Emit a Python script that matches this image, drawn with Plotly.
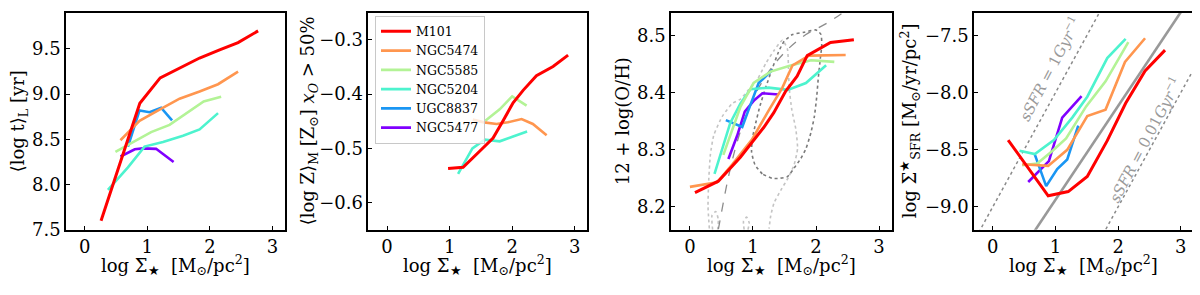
import plotly.graph_objects as go

# ---------------- data ----------------
galaxies = ["M101", "NGC5474", "NGC5585", "NGC5204", "UGC8837", "NGC5477"]
colors = ["rgb(255,0,0)", "rgb(255,150,79)", "rgb(179,243,150)",
          "rgb(77,243,206)", "rgb(26,150,243)", "rgb(128,0,255)"]

x_ticks = [0, 1, 2, 3]

# Panel 1: <log t>_L
m101_age_x = [0.26, 0.57, 0.88, 1.205, 1.515, 1.835, 2.155, 2.45, 2.77]
m101_age_y = [7.60, 8.255, 8.90, 9.18, 9.29, 9.40, 9.49, 9.57, 9.70]
n5474_age_x = [0.57, 0.875, 1.195, 1.515, 1.835, 2.13, 2.45]
n5474_age_y = [8.49, 8.705, 8.83, 8.95, 9.03, 9.11, 9.25]
n5585_age_x = [0.49, 0.69, 1.06, 1.355, 1.9, 2.18]
n5585_age_y = [8.36, 8.44, 8.58, 8.66, 8.92, 8.97]
n5204_age_x = [0.37, 0.69, 0.955, 1.25, 1.57, 1.835, 2.13]
n5204_age_y = [7.94, 8.19, 8.42, 8.47, 8.54, 8.61, 8.79]
u8837_age_x = [0.69, 0.875, 1.035, 1.22, 1.395]
u8837_age_y = [8.42, 8.82, 8.80, 8.85, 8.71]
n5477_age_x = [0.57, 0.80, 0.93, 1.14, 1.42]
n5477_age_y = [8.31, 8.39, 8.40, 8.395, 8.25]
age_ticks = [7.5, 8.0, 8.5, 9.0, 9.5]

# Panel 2: <log Z>_M
m101_z_x = [0.975, 1.215, 1.508, 1.694, 1.854, 2.014, 2.174, 2.387, 2.653, 2.893]
m101_z_y = [-0.537, -0.535, -0.502, -0.481, -0.449, -0.416, -0.393, -0.366, -0.349, -0.328]
n5474_z_x = [1.37, 1.55, 1.75, 1.93, 2.15, 2.33, 2.55]
n5474_z_y = [-0.447, -0.452, -0.455, -0.452, -0.446, -0.455, -0.476]
n5585_z_x = [1.57, 1.80, 2.00, 2.23]
n5585_z_y = [-0.449, -0.428, -0.404, -0.421]
n5204_z_x = [1.135, 1.364, 1.561, 1.80, 2.014, 2.238]
n5204_z_y = [-0.547, -0.500, -0.484, -0.487, -0.478, -0.469]
z_ticks = [-0.6, -0.5, -0.4, -0.3]

# Panel 3: 12 + log(O/H)
m101_oh_x = [0.08, 0.45, 0.80, 1.01, 1.17, 1.33, 1.52, 1.70, 1.86, 2.23, 2.60]
m101_oh_y = [8.225, 8.245, 8.287, 8.316, 8.339, 8.365, 8.403, 8.429, 8.465, 8.488, 8.493]
n5474_oh_x = [0.0, 0.43, 0.67, 0.99, 1.255, 1.467, 1.627, 1.89, 2.47]
n5474_oh_y = [8.235, 8.243, 8.274, 8.319, 8.37, 8.409, 8.448, 8.465, 8.466]
n5585_oh_x = [0.53, 0.80, 1.01, 1.28, 1.57, 1.92, 2.29]
n5585_oh_y = [8.291, 8.375, 8.417, 8.437, 8.447, 8.457, 8.454]
n5204_oh_x = [0.39, 0.64, 0.80, 0.96, 1.25, 1.55, 1.84, 2.16]
n5204_oh_y = [8.258, 8.347, 8.381, 8.406, 8.409, 8.405, 8.417, 8.448]
u8837_oh_x = [0.57, 0.83, 0.93, 1.02, 1.09, 1.31]
u8837_oh_y = [8.352, 8.340, 8.370, 8.398, 8.417, 8.440]
n5477_oh_x = [0.61, 0.75, 0.87, 1.02, 1.15, 1.41]
n5477_oh_y = [8.284, 8.325, 8.367, 8.387, 8.399, 8.397]
oh_ticks = [8.2, 8.3, 8.4, 8.5]

# reference relation (dashed) and density contours (dotted)
ref_oh_x = [0.40, 0.45, 0.62, 0.78, 0.99, 1.25, 1.55, 1.84, 2.16, 2.45]
ref_oh_y = [8.13, 8.16, 8.257, 8.325, 8.387, 8.437, 8.476, 8.502, 8.521, 8.542]
dark_cont_x = [1.308, 1.148, 1.031, 0.978, 0.989, 1.031, 1.106, 1.201, 1.308, 1.403,
               1.494, 1.627, 1.813, 2.0, 2.079, 2.09, 2.068, 2.036, 2.01, 1.973,
               1.919, 1.84, 1.76, 1.653, 1.547, 1.414, 1.308]
dark_cont_y = [8.250, 8.258, 8.274, 8.296, 8.319, 8.341, 8.375, 8.409, 8.443, 8.471,
               8.490, 8.502, 8.506, 8.510, 8.502, 8.482, 8.460, 8.426, 8.392, 8.358,
               8.330, 8.302, 8.285, 8.268, 8.253, 8.250, 8.250]
light_cont_x = [0.308, 0.287, 0.298, 0.324, 0.377, 0.510, 0.670, 0.803, 0.936, 1.069,
                1.201, 1.334, 1.467, 1.547, 1.563, 1.574, 1.616, 1.680, 1.707, 1.653,
                1.563, 1.441, 1.334, 1.281, 1.255]
light_cont_y = [8.162, 8.201, 8.246, 8.291, 8.325, 8.358, 8.381, 8.389, 8.406, 8.423,
                8.451, 8.474, 8.492, 8.476, 8.443, 8.409, 8.370, 8.336, 8.302, 8.274,
                8.252, 8.229, 8.207, 8.184, 8.162]
light_cont2_x = [0.86, 0.85, 0.90, 0.94, 0.92]
light_cont2_y = [8.160, 8.175, 8.182, 8.172, 8.160]
light_cont3_x = [0.36, 0.35, 0.41, 0.45, 0.44]
light_cont3_y = [8.160, 8.185, 8.192, 8.178, 8.160]

# Panel 4: log Sigma_SFR
m101_sfr_x = [0.245, 0.884, 1.204, 1.508, 1.827, 2.12, 2.43, 2.749]
m101_sfr_y = [-8.415, -8.903, -8.866, -8.734, -8.42, -8.092, -7.81, -7.627]
n5474_sfr_x = [0.469, 0.884, 1.188, 1.508, 1.80, 2.11, 2.43]
n5474_sfr_y = [-8.627, -8.641, -8.50, -8.204, -8.148, -7.731, -7.523]
n5585_sfr_x = [0.469, 0.71, 0.95, 1.17, 1.49, 1.80, 2.163]
n5585_sfr_y = [-8.635, -8.62, -8.51, -8.40, -8.12, -7.90, -7.556]
n5204_sfr_x = [0.426, 0.671, 0.975, 1.268, 1.508, 1.827, 2.12]
n5204_sfr_y = [-8.508, -8.537, -8.415, -8.218, -8.035, -7.697, -7.528]
u8837_sfr_x = [0.671, 0.852, 1.028, 1.188, 1.364]
u8837_sfr_y = [-8.542, -8.818, -8.669, -8.585, -8.289]
n5477_sfr_x = [0.565, 0.895, 1.108, 1.188, 1.417]
n5477_sfr_y = [-8.782, -8.599, -8.218, -8.17, -8.03]
sfr_ticks = [-9.0, -8.5, -8.0, -7.5]

fit_sfr_x = [0.45, 3.2]
fit_sfr_y = [-9.39, -7.13]
ssfr_line_x = [-0.5, 3.5]
log_ssfr = [-9.0, -11.0]   # sSFR = 1 Gyr^-1 and 0.01 Gyr^-1
ssfr_labels = ["<i>sSFR</i> = 1<i>Gyr</i><sup>−1</sup>",
               "<i>sSFR</i> = 0.01<i>Gyr</i><sup>−1</sup>"]
ssfr_label_x = [0.906, 2.424]
ssfr_label_y = [-7.796, -8.415]

age_x = [m101_age_x, n5474_age_x, n5585_age_x, n5204_age_x, u8837_age_x, n5477_age_x]
age_y = [m101_age_y, n5474_age_y, n5585_age_y, n5204_age_y, u8837_age_y, n5477_age_y]
z_x = [m101_z_x, n5474_z_x, n5585_z_x, n5204_z_x, None, None]
z_y = [m101_z_y, n5474_z_y, n5585_z_y, n5204_z_y, None, None]
oh_x = [m101_oh_x, n5474_oh_x, n5585_oh_x, n5204_oh_x, u8837_oh_x, n5477_oh_x]
oh_y = [m101_oh_y, n5474_oh_y, n5585_oh_y, n5204_oh_y, u8837_oh_y, n5477_oh_y]
sfr_x = [m101_sfr_x, n5474_sfr_x, n5585_sfr_x, n5204_sfr_x, u8837_sfr_x, n5477_sfr_x]
sfr_y = [m101_sfr_y, n5474_sfr_y, n5585_sfr_y, n5204_sfr_y, u8837_sfr_y, n5477_sfr_y]

# ---------------- figure ----------------
FONT = "DejaVu Serif"
OFF = 8            # page body margin of the html page
W, H = 1200 - OFF, 295 - OFF


def px(xp):
    return (xp - OFF) / W


def py(yp):
    return 1 - (yp - OFF) / H


fig = go.Figure()

# panel 3 background: contours and reference curve
for cx, cy, col in [(light_cont_x, light_cont_y, "#c4c4c4"),
                    (light_cont2_x, light_cont2_y, "#c4c4c4"),
                    (light_cont3_x, light_cont3_y, "#c4c4c4"),
                    (dark_cont_x, dark_cont_y, "#7a7a7a")]:
    fig.add_trace(go.Scatter(x=cx, y=cy, mode="lines", xaxis="x3", yaxis="y3",
                             line=dict(color=col, width=1.6, dash="dot",
                                       shape="spline", smoothing=0.5),
                             showlegend=False, hoverinfo="skip"))
fig.add_trace(go.Scatter(x=ref_oh_x, y=ref_oh_y, mode="lines", xaxis="x3", yaxis="y3",
                         line=dict(color="#8c8c8c", width=1.3, dash="dash", shape="spline"),
                         showlegend=False, hoverinfo="skip"))

# panel 4 background lines
for ls in log_ssfr:
    fig.add_trace(go.Scatter(x=ssfr_line_x, y=[v + ls for v in ssfr_line_x], mode="lines",
                             xaxis="x4", yaxis="y4",
                             line=dict(color="#8a8a8a", width=1.5, dash="dot"),
                             showlegend=False, hoverinfo="skip"))
fig.add_trace(go.Scatter(x=fit_sfr_x, y=fit_sfr_y, mode="lines", xaxis="x4", yaxis="y4",
                         line=dict(color="#999999", width=2.6),
                         showlegend=False, hoverinfo="skip"))

panels = [(age_x, age_y, "x", "y"), (z_x, z_y, "x2", "y2"),
          (oh_x, oh_y, "x3", "y3"), (sfr_x, sfr_y, "x4", "y4")]

for pi, (pxs, pys, xa, ya) in enumerate(panels):
    for gi in reversed(range(len(galaxies))):
        if pxs[gi] is None:
            continue
        fig.add_trace(go.Scatter(
            x=pxs[gi], y=pys[gi], mode="lines", xaxis=xa, yaxis=ya,
            name=galaxies[gi], legendgroup=galaxies[gi], legendrank=gi + 1,
            showlegend=(pi == 0),
            line=dict(color=colors[gi], width=3 if gi == 0 else 2.6)))

# axes (pixel edges of the frames in the page)
frame_left = [66, 368.3, 671, 974]
frame_right = [285, 587.3, 891.7, 1193.3]
frame_top, frame_bottom = 13, 237.7
xdom = [[px(a), px(b)] for a, b in zip(frame_left, frame_right)]
ydom = [py(frame_bottom), py(frame_top)]
yranges = [[7.5, 9.9], [-0.65, -0.25], [8.16, 8.54], [-9.2, -7.3]]
yticks = [age_ticks, z_ticks, oh_ticks, sfr_ticks]

common = dict(ticks="inside", ticklen=4, tickwidth=1, tickcolor="black",
              showline=True, linecolor="black", linewidth=1.5, mirror=True,
              showgrid=False, zeroline=False,
              tickfont=dict(family=FONT, size=18, color="black"))
layout_axes = {}
for i in range(4):
    sx = "" if i == 0 else str(i + 1)
    layout_axes["xaxis" + sx] = dict(domain=xdom[i], range=[-0.3, 3.2], tickvals=x_ticks,
                                     anchor="y" + sx, **common)
    layout_axes["yaxis" + sx] = dict(domain=ydom, range=yranges[i], tickvals=yticks[i],
                                     tickformat=".1f", anchor="x" + sx, **common)

# axis titles
xt = "log Σ<sub>★</sub>  [M<sub>⊙</sub>/pc<sup>2</sup>]"
ytitles = ["⟨log t⟩<sub>L</sub> [yr]",
           "⟨log Z⟩<sub>M</sub> [Z<sub>⊙</sub>] <i>x<sub>O</sub></i> > 50%",
           "12 + log(O/H)",
           "log Σ<sup>★</sup><sub>SFR</sub> [M<sub>⊙</sub>/yr/pc<sup>2</sup>]"]
ytitle_x = [19, 309, 622, 910]
annotations = []
for i in range(4):
    annotations.append(dict(text=xt, xref="paper", yref="paper",
                            x=(xdom[i][0] + xdom[i][1]) / 2, y=py(274),
                            xanchor="center", yanchor="middle", showarrow=False,
                            font=dict(family=FONT, size=18, color="black")))
    annotations.append(dict(text=ytitles[i], xref="paper", yref="paper",
                            x=px(ytitle_x[i]), y=(ydom[0] + ydom[1]) / 2,
                            xanchor="center", yanchor="middle", showarrow=False,
                            textangle=-90,
                            font=dict(family=FONT, size=18, color="black")))
for k in range(2):
    annotations.append(dict(text=ssfr_labels[k], xref="x4", yref="y4",
                            x=ssfr_label_x[k], y=ssfr_label_y[k],
                            xanchor="center", yanchor="middle", showarrow=False,
                            textangle=-62.3,
                            font=dict(family=FONT, size=15, color="#9a9a9a")))

fig.update_layout(
    width=W, height=H,
    margin=dict(l=0, r=0, t=0, b=0),
    paper_bgcolor="white", plot_bgcolor="white",
    showlegend=True,
    legend=dict(x=px(375), y=py(16), xanchor="left", yanchor="top",
                bgcolor="rgba(255,255,255,0.8)", bordercolor="#c8c8c8", borderwidth=1,
                font=dict(family=FONT, size=12.5, color="black"),
                itemwidth=30, tracegroupgap=0, traceorder="normal"),
    annotations=annotations,
    **layout_axes)

fig.write_html("out.html")
